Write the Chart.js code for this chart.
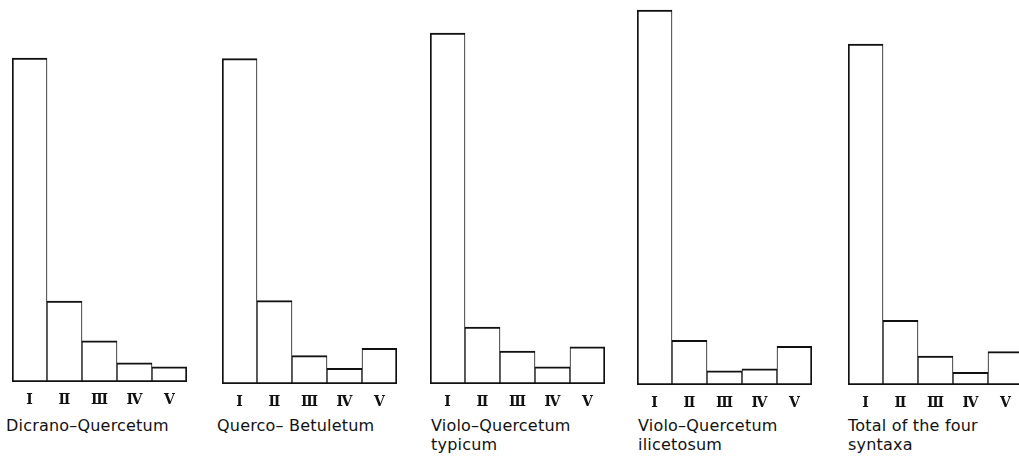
<!DOCTYPE html>
<html>
<head>
<meta charset="utf-8">
<script src="https://cdn.jsdelivr.net/npm/chart.js@4.4.1/dist/chart.umd.min.js"></script>
<style>
html, body { margin: 0; padding: 0; background: #fff; width: 1019px; height: 456px; overflow: hidden; }
canvas { position: absolute; }
.label { position: absolute; font-family: "DejaVu Sans", sans-serif; font-size: 16px; line-height: 19px; letter-spacing: 0.2px; color: #111; white-space: nowrap; }
</style>
</head>
<body>
<script>
// constancy classes (x axis of every panel)
const classes = ['Ⅰ', 'Ⅱ', 'Ⅲ', 'Ⅳ', 'Ⅴ'];

// share of species per class, %
const dicranoQuercetum = [66.1, 16.5, 8.4, 3.9, 3.1];
const quercoBetuletum = [66.4, 17.0, 5.8, 3.2, 7.3];
const vioQuercTypicum = [71.6, 11.6, 6.7, 3.5, 7.6];
const vioQuercIlicetosum = [76.5, 9.1, 2.9, 3.3, 7.9];
const totalFour = [69.6, 13.2, 5.9, 2.6, 6.8];

const panelNames = [
    ['Dicrano–Quercetum'],
    ['Querco– Betuletum'],
    ['Violo–Quercetum', 'typicum'],
    ['Violo–Quercetum', 'ilicetosum'],
    ['Total of the four', 'syntaxa']
];
const panelData = [dicranoQuercetum, quercoBetuletum, vioQuercTypicum, vioQuercIlicetosum, totalFour];

// where each small chart sits on the page
const layout = [
    { left: 12, base: 382, textX: 6 },
    { left: 222, base: 384, textX: 217 },
    { left: 430, base: 384, textX: 431 },
    { left: 637, base: 385, textX: 638 },
    { left: 848, base: 385, textX: 848 }
];

const PANEL_W = 175;
const PLOT_H = 380;      // chart area height
const PX_PER_PCT = 4.9;  // same vertical scale for all panels
const AXIS_H = 30;

function makePanel(i) {
    const pos = layout[i];
    const canvas = document.createElement('canvas');
    canvas.width = PANEL_W;
    canvas.height = PLOT_H + AXIS_H;
    canvas.style.left = pos.left + 'px';
    canvas.style.top = (pos.base - PLOT_H) + 'px';
    canvas.style.width = PANEL_W + 'px';
    canvas.style.height = (PLOT_H + AXIS_H) + 'px';
    document.body.appendChild(canvas);

    new Chart(canvas, {
        type: 'bar',
        data: {
            labels: classes,
            datasets: [{
                data: panelData[i],
                backgroundColor: '#ffffff',
                borderColor: '#111111',
                borderSkipped: false,
                borderWidth: (ctx) => ({
                    top: 2,
                    bottom: 2,
                    left: ctx.dataIndex === 0 ? 2 : 1,
                    right: ctx.dataIndex === classes.length - 1 ? 2 : 1
                }),
                barPercentage: 1,
                categoryPercentage: 1
            }]
        },
        options: {
            responsive: false,
            animation: false,
            devicePixelRatio: 1,
            layout: { padding: 0 },
            plugins: {
                legend: { display: false },
                tooltip: { enabled: false }
            },
            scales: {
                x: {
                    grid: { display: false, drawTicks: false },
                    border: { display: false },
                    ticks: {
                        color: '#111',
                        padding: 10,
                        font: { family: 'DejaVu Serif', size: 14, weight: 'bold' }
                    },
                    afterFit: (scale) => { scale.height = AXIS_H; }
                },
                y: {
                    display: false,
                    min: 0,
                    max: PLOT_H / PX_PER_PCT
                }
            }
        }
    });

    const lbl = document.createElement('div');
    lbl.className = 'label';
    lbl.style.left = pos.textX + 'px';
    lbl.style.top = '416px';
    lbl.innerHTML = panelNames[i].join('<br>');
    document.body.appendChild(lbl);
}

for (let i = 0; i < panelData.length; i++) {
    makePanel(i);
}
</script>
</body>
</html>
